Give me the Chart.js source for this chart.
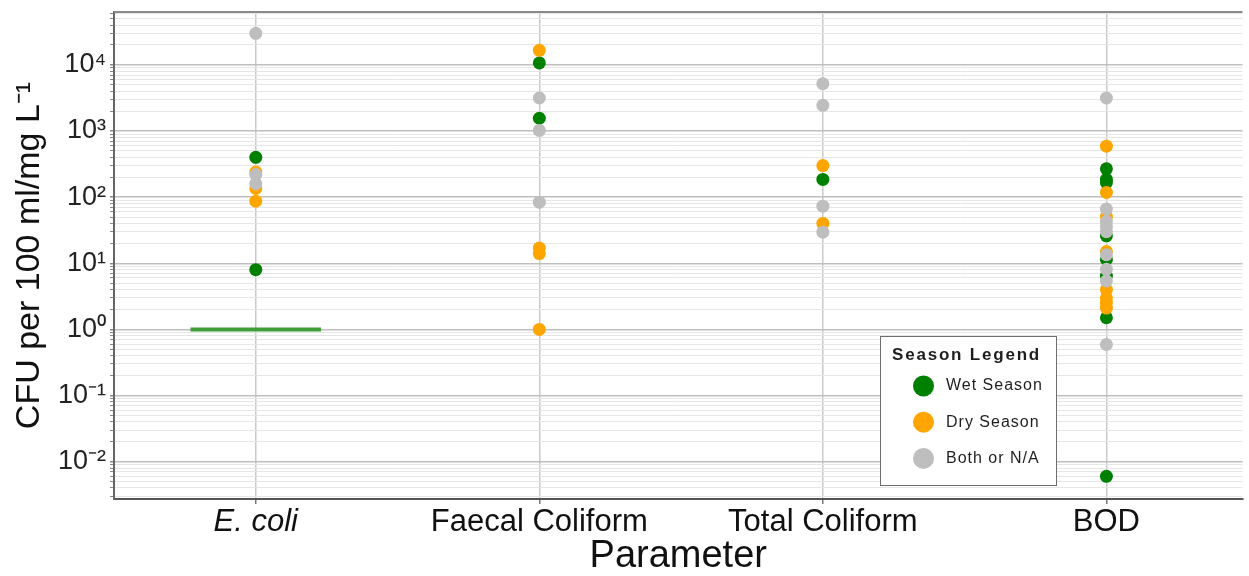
<!DOCTYPE html>
<html>
<head>
<meta charset="utf-8">
<title>CFU by parameter</title>
<script src="https://cdn.jsdelivr.net/npm/chart.js@4.4.1/dist/chart.umd.min.js"></script>
<style>
  html, body { margin: 0; padding: 0; background: #fff; overflow: hidden; }
  canvas { display: block; }
</style>
</head>
<body>
<canvas id="chart" width="1249" height="576"></canvas>
<script>
// categories on the x axis
const parameters = ['E. coli', 'Faecal Coliform', 'Total Coliform', 'BOD'];

// wet season points
const wetParam  = ['E. coli', 'E. coli', 'Faecal Coliform', 'Faecal Coliform', 'Total Coliform',
                   'BOD', 'BOD', 'BOD', 'BOD', 'BOD', 'BOD', 'BOD', 'BOD'];
const wetValues = [400, 8, 10700, 1560, 185,
                   268, 185, 166, 26, 11.4, 6.4, 1.5, 0.006];

// dry season points
const dryParam  = ['E. coli', 'E. coli', 'E. coli', 'Faecal Coliform', 'Faecal Coliform', 'Faecal Coliform', 'Faecal Coliform',
                   'Total Coliform', 'Total Coliform',
                   'BOD', 'BOD', 'BOD', 'BOD', 'BOD', 'BOD', 'BOD', 'BOD'];
const dryValues = [240, 135, 87, 16600, 17, 14, 1.0,
                   300, 40,
                   590, 118, 51, 15, 4.0, 3.0, 2.5, 2.1];

// both / not available
const bothParam  = ['E. coli', 'E. coli', 'E. coli', 'Faecal Coliform', 'Faecal Coliform', 'Faecal Coliform',
                    'Total Coliform', 'Total Coliform', 'Total Coliform', 'Total Coliform',
                    'BOD', 'BOD', 'BOD', 'BOD', 'BOD', 'BOD', 'BOD', 'BOD', 'BOD'];
const bothValues = [30000, 220, 160, 3160, 1020, 84,
                    5200, 2450, 73, 29.5,
                    3160, 66, 43, 36, 30, 13.5, 8.1, 5.4, 0.59];

// green reference segment at 1 under E. coli
const refLineX = [0.77, 1.23];
const refLineValue = 1;

// y axis
const yMin = 0.00272;
const yMax = 63100;
const yDecades = [-3, -2, -1, 0, 1, 2, 3, 4];

const legendTitle = 'Season Legend';

const sup = { '-': '⁻', '0': '⁰', '1': '¹', '2': '²', '3': '³', '4': '⁴', '5': '⁵', '6': '⁶', '7': '⁷', '8': '⁸', '9': '⁹' };
const supText = s => String(s).split('').map(c => sup[c]).join('');

const toPoints = (names, vals) => names.map((n, i) => ({ x: parameters.indexOf(n) + 1, y: vals[i] }));

const colWet = '#008000', colDry = '#FFA500', colBoth = '#BEBEBE';

const seasonLegend = {
  id: 'seasonLegend',
  afterDatasetsDraw(chart) {
    const ctx = chart.ctx;
    const a = chart.chartArea;
    ctx.save();
    // top frame line
    ctx.strokeStyle = '#8a8a8a';
    ctx.lineWidth = 2;
    ctx.beginPath();
    ctx.moveTo(a.left, a.top);
    ctx.lineTo(a.right, a.top);
    ctx.stroke();

    // legend box
    const bx = 880.5, by = 336.5, bw = 176, bh = 149;
    ctx.fillStyle = '#fff';
    ctx.fillRect(bx, by, bw, bh);
    ctx.strokeStyle = '#6e6e6e';
    ctx.lineWidth = 1;
    ctx.strokeRect(bx, by, bw, bh);

    ctx.fillStyle = '#1e1e1e';
    ctx.textAlign = 'left';
    ctx.textBaseline = 'middle';
    ctx.font = 'bold 17px "Liberation Sans", Arial, sans-serif';
    ctx.letterSpacing = '1.8px';
    ctx.fillText(legendTitle, 892, 355);

    ctx.font = '16px "Liberation Sans", Arial, sans-serif';
    ctx.letterSpacing = '1px';
    const items = chart.data.datasets.filter(d => d.legendRow !== undefined)
      .sort((p, q) => p.legendRow - q.legendRow);
    items.forEach((d, i) => {
      const cy = 386 + i * 36.2;
      ctx.fillStyle = d.backgroundColor;
      ctx.beginPath();
      ctx.arc(923.5, cy, 10.5, 0, Math.PI * 2);
      ctx.fill();
      ctx.fillStyle = '#1e1e1e';
      ctx.fillText(d.label, 946, cy);
    });
    ctx.restore();
  }
};

const ctx = document.getElementById('chart').getContext('2d');

const myChart = new Chart(ctx, {
  type: 'scatter',
  data: {
    datasets: [
      {
        label: 'Both or N/A', legendRow: 2,
        data: toPoints(bothParam, bothValues),
        backgroundColor: colBoth, borderWidth: 0, pointRadius: 6.5, order: 1
      },
      {
        label: 'Dry Season', legendRow: 1,
        data: toPoints(dryParam, dryValues),
        backgroundColor: colDry, borderWidth: 0, pointRadius: 6.5, order: 2
      },
      {
        label: 'Wet Season', legendRow: 0,
        data: toPoints(wetParam, wetValues),
        backgroundColor: colWet, borderWidth: 0, pointRadius: 6.5, order: 3
      },
      {
        type: 'line',
        label: 'reference',
        data: refLineX.map(x => ({ x: x, y: refLineValue })),
        borderColor: '#3e9d36', borderWidth: 4, pointRadius: 0, showLine: true, order: 4
      }
    ]
  },
  options: {
    responsive: false,
    animation: false,
    layout: { padding: { top: 12, right: 0, left: 0, bottom: 0 } },
    scales: {
      x: {
        type: 'linear',
        min: 0.5,
        max: 4.48,
        afterBuildTicks: s => { s.ticks = parameters.map((p, i) => ({ value: i + 1 })); },
        afterFit: s => { s.height = 77; s.paddingLeft = 0; s.paddingRight = 0; },
        ticks: {
          callback: v => parameters[v - 1] || '',
          color: '#111',
          padding: 0,
          maxRotation: 0,
          font: c => ({
            family: '"Liberation Sans", Arial, sans-serif',
            size: 31,
            style: c.tick && c.tick.value === 1 ? 'italic' : 'normal'
          })
        },
        grid: { color: '#c9c9c9', lineWidth: 1.5, tickLength: 5, tickColor: '#777' },
        border: { color: '#555', width: 2 },
        title: {
          display: true, text: 'Parameter', color: '#111',
          font: { family: '"Liberation Sans", Arial, sans-serif', size: 38, lineHeight: 1 },
          padding: { top: 0, bottom: 0 }
        }
      },
      y: {
        type: 'logarithmic',
        min: yMin,
        max: yMax,
        afterBuildTicks: s => {
          const t = [];
          yDecades.forEach(d => {
            for (let m = 1; m <= 9; m++) {
              const v = m * Math.pow(10, d);
              if (v >= yMin && v <= yMax) t.push({ value: v, major: m === 1 });
            }
          });
          s.ticks = t;
        },
        afterFit: s => { s.width = 114; s.paddingTop = 0; s.paddingBottom = 0; },
        ticks: {
          autoSkip: false,
          color: '#222',
          padding: 4,
          font: { family: '"Liberation Sans", Arial, sans-serif', size: 27 },
          callback: v => {
            const e = Math.round(Math.log10(v));
            return Math.abs(v - Math.pow(10, e)) < 1e-9 * Math.pow(10, e) ? '10' + supText(e) : '';
          }
        },
        grid: {
          color: c => (c.tick && c.tick.major) ? '#bfbfbf' : '#e6e6e6',
          lineWidth: c => (c.tick && c.tick.major) ? 1.5 : 1,
          tickLength: 4,
          tickColor: '#888'
        },
        border: { color: '#666', width: 2 },
        title: {
          display: true, text: 'CFU per 100 ml/mg L⁻¹', color: '#111',
          font: { family: '"Liberation Sans", Arial, sans-serif', size: 34, lineHeight: 1.2 },
          padding: { top: 9, bottom: 0 }
        }
      }
    },
    plugins: {
      legend: { display: false },
      tooltip: { enabled: false }
    }
  },
  plugins: [seasonLegend]
});
</script>
</body>
</html>
